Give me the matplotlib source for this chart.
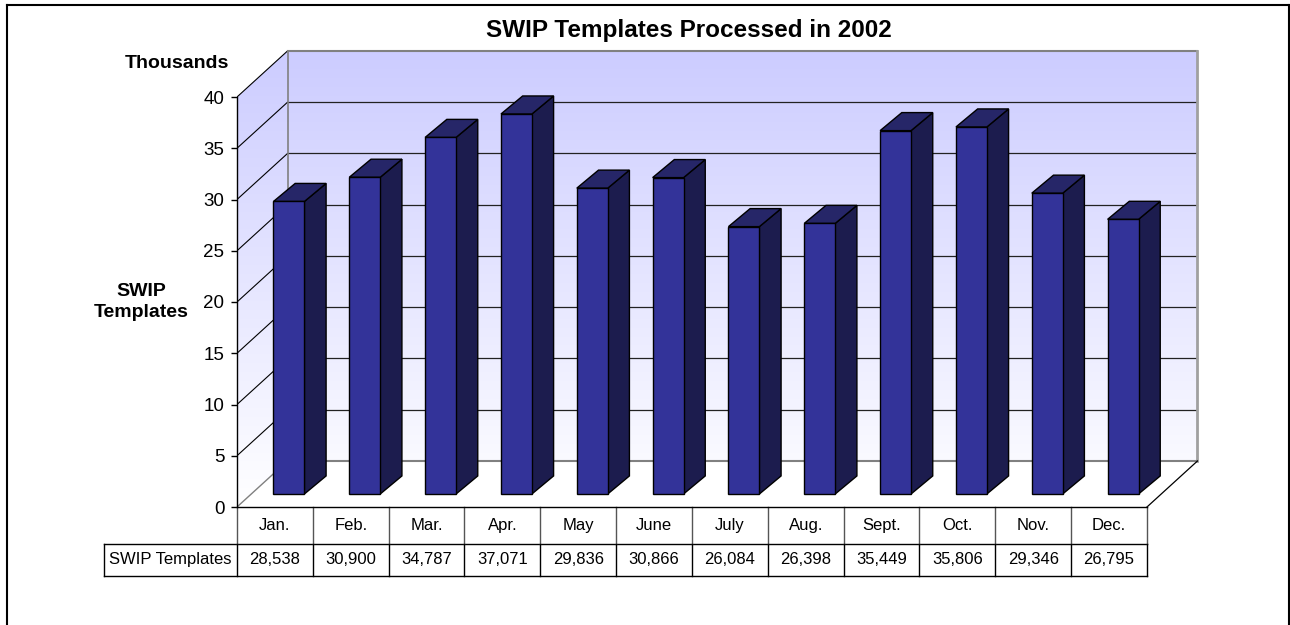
import numpy as np
import matplotlib
matplotlib.use('Agg')
import matplotlib.pyplot as plt
from matplotlib.patches import Polygon, Rectangle
from matplotlib.lines import Line2D

# data (thousands on the axis, raw counts in the table)
months = ['Jan.', 'Feb.', 'Mar.', 'Apr.', 'May', 'June', 'July', 'Aug.',
          'Sept.', 'Oct.', 'Nov.', 'Dec.']
templates = [28538, 30900, 34787, 37071, 29836, 30866, 26084, 26398,
             35449, 35806, 29346, 26795]
yticks = [0, 5, 10, 15, 20, 25, 30, 35, 40]
series_name = 'SWIP Templates'
title = 'SWIP Templates Processed in 2002'

# 3d look (in data units: categories on x, thousands on y)
WX, WY = 0.666, 4.49          # wall depth offset
BX0, BY0 = 0.185, 1.27        # bar front face shift
BDX, BDY = 0.286, 1.76        # bar depth
HALF_W = 0.204
ROW1, ROW2 = -3.61, -6.73     # table row bottoms
LABEL_X = -2.254

FRONT = '#333399'
SIDE = '#1c1c4e'
TOP = '#262668'

plt.rcParams['font.family'] = ['Liberation Sans', 'DejaVu Sans']

fig = plt.figure(figsize=(12.9, 6.25), dpi=100)
ax = fig.add_axes([237 / 1290, (625 - 507) / 625, 985.8 / 1290, 471.5 / 625])
ax.set_xlim(-0.5, 12.5)
ax.set_ylim(0, 46)

n = len(months)
x0, x1 = -0.5, n - 0.5
ymax = yticks[-1]

# walls with vertical gradient
wall = Polygon([(x0, 0), (x0, ymax), (x0 + WX, ymax + WY), (x1 + WX, ymax + WY),
                (x1 + WX, WY), (x0 + WX, WY)], closed=True, fc='none', ec='none')
ax.add_patch(wall)
grad = np.linspace(0, 1, 256).reshape(-1, 1)
top_c = np.array([204, 204, 255]) / 255
img = np.ones((256, 1, 3)) * (1 - grad[..., None]) + top_c * grad[..., None]
im = ax.imshow(img, extent=(x0, x1 + WX, 0, ymax + WY), origin='lower',
               aspect='auto', zorder=0, interpolation='bilinear')
im.set_clip_path(wall)

# gridlines on back and side wall
for v in yticks[1:-1]:
    ax.add_line(Line2D([x0 + WX, x1 + WX], [v + WY, v + WY], color='#222222', lw=0.9, zorder=1))
for v in yticks[1:]:
    ax.add_line(Line2D([x0, x0 + WX], [v, v + WY], color='black', lw=0.8, zorder=1))

# wall/floor edges
grey = '#808080'
ax.add_line(Line2D([x0 + WX, x1 + WX], [ymax + WY, ymax + WY], color=grey, lw=1.5, zorder=1))
ax.add_line(Line2D([x0 + WX, x0 + WX], [WY, ymax + WY], color=grey, lw=1.2, zorder=1))
ax.add_line(Line2D([x1 + WX, x1 + WX], [WY, ymax + WY], color='#a0a0a0', lw=2, zorder=1))
ax.add_line(Line2D([x0 + WX, x1 + WX], [WY, WY], color=grey, lw=1.5, zorder=1))
ax.add_line(Line2D([x0, x0 + WX], [0, WY], color=grey, lw=1.0, zorder=1))
ax.add_line(Line2D([x1, x1 + WX], [0, WY], color='black', lw=0.9, zorder=1))

# bars
for i, v in enumerate(templates):
    h = v / 1000.0
    l = i - HALF_W + BX0
    r = i + HALF_W + BX0
    b = BY0
    t = BY0 + h
    ax.add_patch(Polygon([(r, b), (r + BDX, b + BDY), (r + BDX, t + BDY), (r, t)],
                         closed=True, fc=SIDE, ec='black', lw=1, zorder=3))
    ax.add_patch(Polygon([(l, t), (l + BDX, t + BDY), (r + BDX, t + BDY), (r, t)],
                         closed=True, fc=TOP, ec='black', lw=1, zorder=3))
    ax.add_patch(Rectangle((l, b), r - l, h, fc=FRONT, ec='black', lw=1, zorder=4))

# y axis on the front-left edge
for s in ['top', 'right', 'bottom']:
    ax.spines[s].set_visible(False)
ax.spines['left'].set_bounds(0, ymax)
ax.spines['left'].set_linewidth(1)
ax.spines['left'].set_zorder(5)
ax.set_yticks(yticks)
ax.set_yticklabels([str(t) for t in yticks])
ax.tick_params(axis='y', direction='out', length=4, width=1, pad=5, labelsize=13.5)
ax.set_xticks([])

# data table
tfont = dict(fontsize=12)
ax.add_line(Line2D([x0, x1], [0, 0], color='black', lw=1, clip_on=False, zorder=5))
ax.add_line(Line2D([LABEL_X, x1], [ROW1, ROW1], color='black', lw=1, clip_on=False))
ax.add_line(Line2D([LABEL_X, x1], [ROW2, ROW2], color='black', lw=1, clip_on=False))
ax.add_line(Line2D([LABEL_X, LABEL_X], [ROW1, ROW2], color='black', lw=1, clip_on=False))
for k in range(n + 1):
    xb = k - 0.5
    ax.add_line(Line2D([xb, xb], [0, ROW1], color='#555555', lw=1, clip_on=False))
    ax.add_line(Line2D([xb, xb], [ROW1, ROW2], color='black', lw=1, clip_on=False))
for i, (m, v) in enumerate(zip(months, templates)):
    ax.text(i, ROW1 / 2, m, ha='center', va='center', clip_on=False, **tfont)
    ax.text(i, (ROW1 + ROW2) / 2, f'{v:,}', ha='center', va='center', clip_on=False, **tfont)
ax.text((LABEL_X + x0) / 2, (ROW1 + ROW2) / 2, series_name, ha='center', va='center',
        clip_on=False, **tfont)

# titles
fig.text(689 / 1290, 1 - 31 / 625, title, ha='center', va='center',
         fontsize=17.5, fontweight='bold')
fig.text(177 / 1290, 1 - 64 / 625, 'Thousands', ha='center', va='center',
         fontsize=14, fontweight='bold')
fig.text(141 / 1290, 1 - 302 / 625, 'SWIP\nTemplates', ha='center', va='center',
         fontsize=14, fontweight='bold', linespacing=1.35)

# outer frame
fig.add_artist(Line2D([7 / 1290, 1289 / 1290], [1 - 5 / 625, 1 - 5 / 625],
                      transform=fig.transFigure, color='black', lw=1.5))
fig.add_artist(Line2D([7 / 1290, 7 / 1290], [0, 1 - 5 / 625],
                      transform=fig.transFigure, color='black', lw=1.5))
fig.add_artist(Line2D([1288.5 / 1290, 1288.5 / 1290], [0, 1 - 5 / 625],
                      transform=fig.transFigure, color='black', lw=1.5))

fig.savefig('out.png', dpi=100)
